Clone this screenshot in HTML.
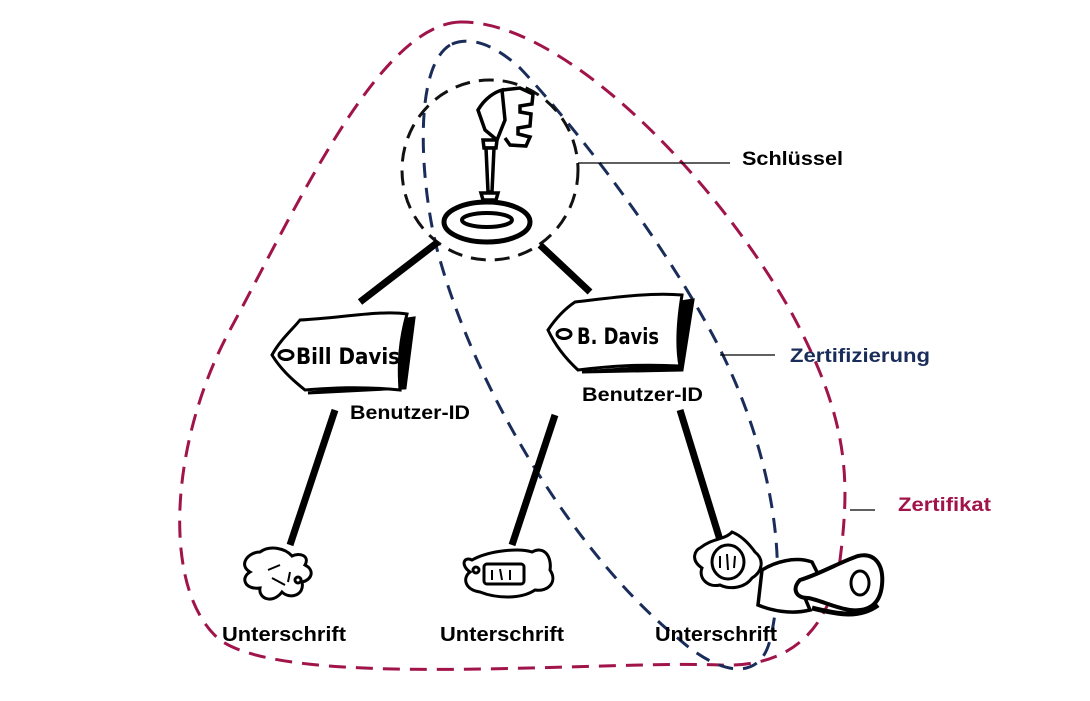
<!DOCTYPE html>
<html><head><meta charset="utf-8"><style>
html,body{margin:0;padding:0;background:#fff;}
svg{display:block;}
text{font-family:"Liberation Sans",Arial,sans-serif;font-weight:bold;}
</style></head><body>
<svg width="1090" height="701" viewBox="0 0 1090 701" xmlns="http://www.w3.org/2000/svg">
<!-- Zertifikat curve -->
<path d="M460,22 C380,25 300,200 230,330 C170,440 160,590 220,640 C290,690 600,660 720,665 C790,668 830,630 840,560 C850,480 850,420 790,310 C710,170 560,20 460,22 Z" fill="none" stroke="#a0144a" stroke-width="3" stroke-dasharray="17,10"/>
<!-- Zertifizierung curve -->
<path d="M450,45 C410,70 422,200 440,260 C480,400 580,560 680,640 C720,675 760,682 770,640 C790,560 770,440 710,330 C650,220 560,110 520,68 C495,45 470,35 450,45 Z" fill="none" stroke="#1a2d5a" stroke-width="3" stroke-dasharray="15,10"/>
<!-- Schlüssel circle -->
<ellipse cx="490" cy="170" rx="88" ry="90" fill="none" stroke="#111" stroke-width="3" stroke-dasharray="15,9"/>
<!-- leader lines -->
<line x1="578" y1="163" x2="730" y2="163" stroke="#000" stroke-width="1.2"/>
<line x1="720" y1="355" x2="775" y2="355" stroke="#000" stroke-width="1.2"/>
<line x1="850" y1="510" x2="875" y2="510" stroke="#000" stroke-width="1.2"/>
<text x="742" y="165" font-size="19" fill="#000" textLength="101" lengthAdjust="spacingAndGlyphs">Schlüssel</text>
<text x="790" y="362" font-size="19" fill="#1a2d5a" textLength="140" lengthAdjust="spacingAndGlyphs">Zertifizierung</text>
<text x="898" y="511" font-size="19" fill="#a0144a" textLength="93" lengthAdjust="spacingAndGlyphs">Zertifikat</text>
<!-- key -->
<g stroke="#000" stroke-width="3.5" fill="#fff">
<path d="M503,90 L520,88 L533,94 L532,104 L520,106 L520,112 L531,114 L530,126 L518,128 L518,134 L530,137 L526,146 L510,145 L505,138"/>
<path d="M478,110 C485,98 495,92 502,90 L505,120 L497,140 L485,130 Z"/>
<path d="M483,140 L497,140 L496,148 L484,148 Z"/>
<path d="M486,148 L494,148 L492,192 L488,192 Z"/>
<path d="M481,193 L498,193 L496,200 L483,200 Z"/>
<ellipse cx="487" cy="222" rx="43" ry="20" stroke-width="5"/>
<ellipse cx="487" cy="220" rx="25" ry="7" stroke-width="4"/>
</g>
<!-- connector lines -->
<g stroke="#000" stroke-width="7" stroke-linecap="butt">
<line x1="438" y1="242" x2="360" y2="302"/>
<line x1="540" y1="245" x2="590" y2="292"/>
<line x1="335" y1="410" x2="290" y2="545"/>
<line x1="555" y1="415" x2="512" y2="545"/>
<line x1="680" y1="410" x2="720" y2="540"/>
</g>
<!-- tags -->
<g stroke="#000" stroke-width="3" fill="#fff">
<path d="M308,393 L405,388 L414,318 L400,320 L397,384 Z" fill="#000"/>
<path d="M272,355 C280,340 292,330 300,320 C340,318 380,310 407,314 C400,340 398,360 400,390 C360,386 330,388 305,390 C290,378 280,368 272,355 Z"/>
<ellipse cx="286" cy="355" rx="7" ry="4.5"/>
<path d="M582,372 L682,370 L693,300 L680,302 L678,365 Z" fill="#000"/>
<path d="M548,330 C556,318 566,308 575,302 C610,298 650,292 682,295 C678,320 676,345 680,366 C640,364 610,366 578,370 C565,358 555,345 548,330 Z"/>
<ellipse cx="564" cy="334" rx="7" ry="4.5"/>
</g>
<text x="296" y="364" font-size="22" fill="#000" style="font-family:'DejaVu Sans Condensed','Liberation Sans Narrow',sans-serif" textLength="104" lengthAdjust="spacingAndGlyphs">Bill Davis</text>
<text x="577" y="344" font-size="22" fill="#000" style="font-family:'DejaVu Sans Condensed','Liberation Sans Narrow',sans-serif" textLength="82" lengthAdjust="spacingAndGlyphs">B. Davis</text>
<text x="350" y="419" font-size="19" fill="#000" textLength="120" lengthAdjust="spacingAndGlyphs">Benutzer-ID</text>
<text x="582" y="401" font-size="19" fill="#000" textLength="121" lengthAdjust="spacingAndGlyphs">Benutzer-ID</text>
<!-- blots -->
<g stroke="#000" stroke-width="3" fill="#fff">
<path d="M260,552 C270,545 285,548 292,556 C300,552 310,556 305,565 C315,570 312,580 302,582 C305,595 290,600 282,592 C272,605 258,598 260,588 C245,590 240,578 250,572 C238,565 248,552 260,552 Z"/>
<path d="M268,570 L280,565 M272,578 L285,585 M290,572 L288,582" fill="none" stroke-width="2"/>
<circle cx="298" cy="580" r="3"/>
<path d="M472,560 C490,550 520,548 532,552 C545,545 552,558 550,570 C558,582 548,592 535,590 C520,600 495,598 480,592 C465,590 462,578 470,572 C460,565 464,556 472,560 Z"/>
<rect x="484" y="564" width="40" height="20" rx="3"/>
<path d="M492,570 L492,580 M500,569 L502,580 M510,570 L510,580" fill="none" stroke-width="2"/>
<circle cx="476" cy="570" r="3"/>
<path d="M700,548 C712,538 725,540 732,532 C742,536 750,545 755,552 C765,560 762,572 752,578 C745,588 730,590 720,585 C708,588 698,578 702,568 C690,560 695,550 700,548 Z"/>
<ellipse cx="728" cy="562" rx="16" ry="17"/>
<path d="M720,556 L720,568 M727,554 L728,570 M735,556 L734,568" fill="none" stroke-width="2"/>
<!-- stamp -->
<path d="M762,570 C775,562 795,556 812,562 L820,578 L805,598 L810,610 C790,615 770,610 758,605 Z" stroke-width="3.5"/>
<path d="M800,580 C820,574 840,562 858,556 C875,552 884,565 882,585 C880,605 868,612 850,610 C835,608 820,600 808,598 C795,598 792,588 800,580 Z" stroke-width="4"/>
<ellipse cx="860" cy="583" rx="9" ry="12" stroke-width="3"/>
<path d="M812,608 C840,615 860,618 878,605" fill="none" stroke-width="5"/>
</g>
<text x="222" y="641" font-size="20" fill="#000" textLength="124" lengthAdjust="spacingAndGlyphs">Unterschrift</text>
<text x="440" y="641" font-size="20" fill="#000" textLength="124" lengthAdjust="spacingAndGlyphs">Unterschrift</text>
<text x="655" y="641" font-size="20" fill="#000" textLength="122" lengthAdjust="spacingAndGlyphs">Unterschrift</text>
</svg>
</body></html>
